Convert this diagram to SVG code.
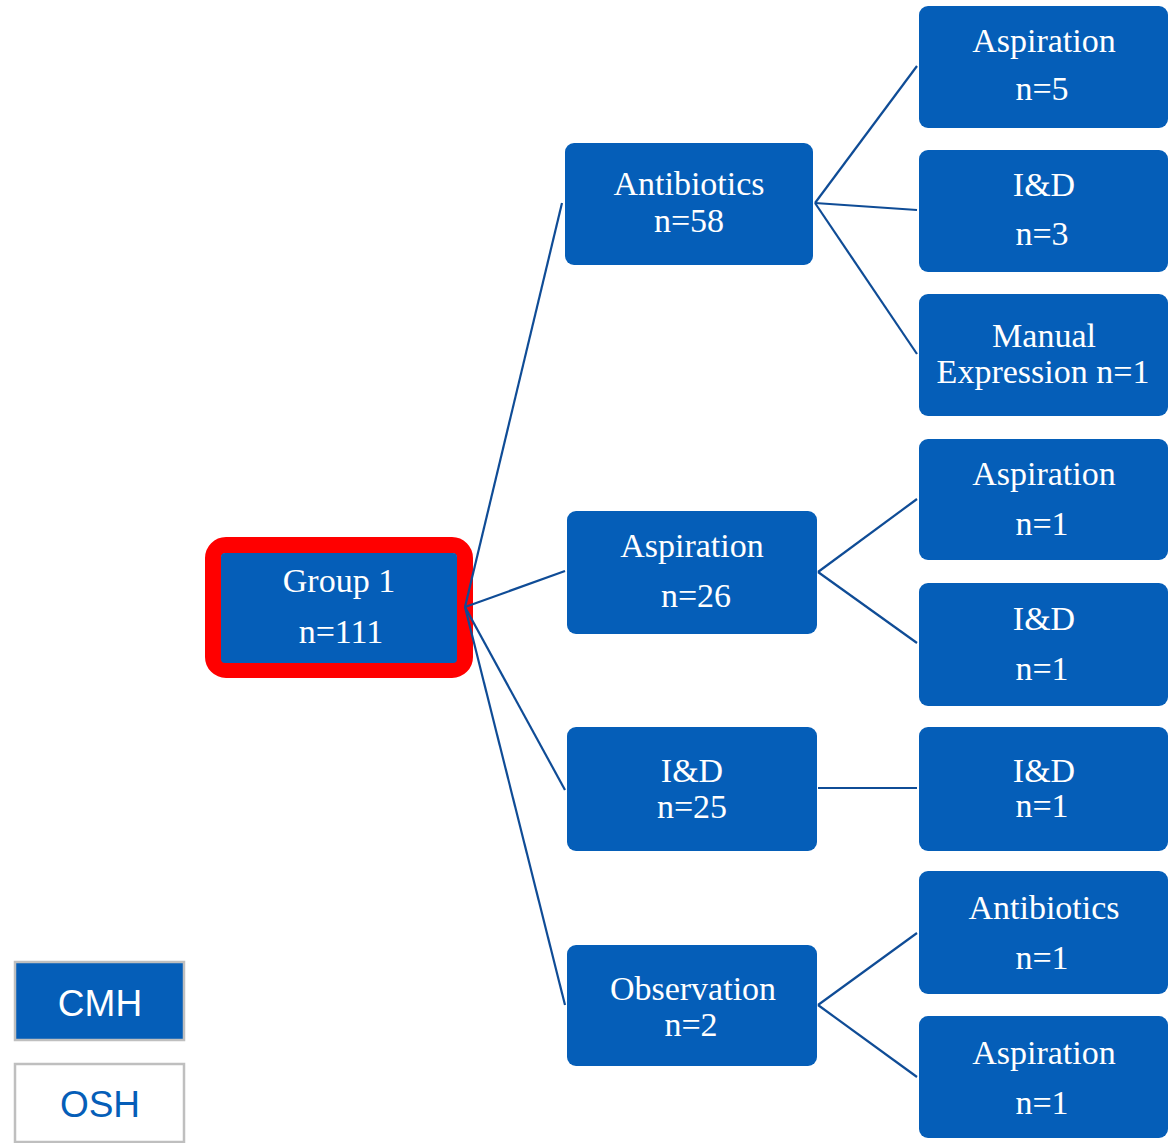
<svg xmlns="http://www.w3.org/2000/svg" width="1168" height="1143" viewBox="0 0 1168 1143">
<style>
.box{fill:#055EB8;}
.t{font-family:"Liberation Serif","Times New Roman",serif;font-size:34px;fill:#FFFFFF;text-anchor:middle;}
.conn{stroke:#0F4C96;stroke-width:2.2;fill:none;}
.leg{stroke:#BFBFBF;stroke-width:2.5;}
.lt{font-family:"Liberation Sans",Arial,sans-serif;font-size:37px;text-anchor:middle;}
</style>
<rect width="1168" height="1143" fill="#FFFFFF"/>
<g id="group1">
<rect x="213" y="545" width="252" height="125" rx="13" fill="none" stroke="#FF0000" stroke-width="16"/>
<rect class="box" x="221" y="553" width="236" height="110" rx="4"/>
<text class="t" x="339" y="592">Group 1</text>
<text class="t" x="341" y="643">n=111</text>
</g>
<g id="antibiotics58">
<rect class="box" x="565" y="143" width="248" height="122" rx="9"/>
<text class="t" x="689" y="195">Antibiotics</text>
<text class="t" x="689" y="232">n=58</text>
</g>
<g id="aspiration26">
<rect class="box" x="567" y="511" width="250" height="123" rx="9"/>
<text class="t" x="692" y="557">Aspiration</text>
<text class="t" x="696" y="607">n=26</text>
</g>
<g id="id25">
<rect class="box" x="567" y="727" width="250" height="124" rx="9"/>
<text class="t" x="692" y="782">I&amp;D</text>
<text class="t" x="692" y="818">n=25</text>
</g>
<g id="observation2">
<rect class="box" x="567" y="945" width="250" height="121" rx="9"/>
<text class="t" x="693" y="1000">Observation</text>
<text class="t" x="691" y="1036">n=2</text>
</g>
<g id="aspiration5">
<rect class="box" x="919" y="6" width="249" height="122" rx="9"/>
<text class="t" x="1044" y="52">Aspiration</text>
<text class="t" x="1042" y="100">n=5</text>
</g>
<g id="id3">
<rect class="box" x="919" y="150" width="249" height="122" rx="9"/>
<text class="t" x="1044" y="196">I&amp;D</text>
<text class="t" x="1042" y="245">n=3</text>
</g>
<g id="manual1">
<rect class="box" x="919" y="294" width="249" height="122" rx="9"/>
<text class="t" x="1044" y="347">Manual</text>
<text class="t" x="1043" y="383">Expression n=1</text>
</g>
<g id="aspiration1a">
<rect class="box" x="919" y="439" width="249" height="121" rx="9"/>
<text class="t" x="1044" y="485">Aspiration</text>
<text class="t" x="1042" y="535">n=1</text>
</g>
<g id="id1a">
<rect class="box" x="919" y="583" width="249" height="123" rx="9"/>
<text class="t" x="1044" y="630">I&amp;D</text>
<text class="t" x="1042" y="680">n=1</text>
</g>
<g id="id1b">
<rect class="box" x="919" y="727" width="249" height="124" rx="9"/>
<text class="t" x="1044" y="782">I&amp;D</text>
<text class="t" x="1042" y="817">n=1</text>
</g>
<g id="antibiotics1">
<rect class="box" x="919" y="871" width="249" height="123" rx="9"/>
<text class="t" x="1044" y="919">Antibiotics</text>
<text class="t" x="1042" y="969">n=1</text>
</g>
<g id="aspiration1b">
<rect class="box" x="919" y="1016" width="249" height="122" rx="9"/>
<text class="t" x="1044" y="1064">Aspiration</text>
<text class="t" x="1042" y="1114">n=1</text>
</g>
<g id="legend-cmh">
<rect class="leg" x="15" y="962" width="169" height="78" fill="#055EB8"/>
<text class="lt" x="100" y="1016" fill="#FFFFFF">CMH</text>
</g>
<g id="legend-osh">
<rect class="leg" x="15" y="1064" width="169" height="78" fill="#FFFFFF"/>
<text class="lt" x="100" y="1117" fill="#055EB8">OSH</text>
</g>
<g id="connectors">
<path class="conn" d="M465,607 L562,203"/>
<path class="conn" d="M465,607 L565,571"/>
<path class="conn" d="M465,607 L565,790"/>
<path class="conn" d="M465,607 L565,1005"/>
<path class="conn" d="M815,203 L917,66"/>
<path class="conn" d="M815,203 L917,210"/>
<path class="conn" d="M815,203 L917,354"/>
<path class="conn" d="M818,572 L917,499"/>
<path class="conn" d="M818,572 L917,643"/>
<path class="conn" d="M818,788 L917,788"/>
<path class="conn" d="M818,1005 L917,933"/>
<path class="conn" d="M818,1005 L917,1077"/>
</g>
</svg>
